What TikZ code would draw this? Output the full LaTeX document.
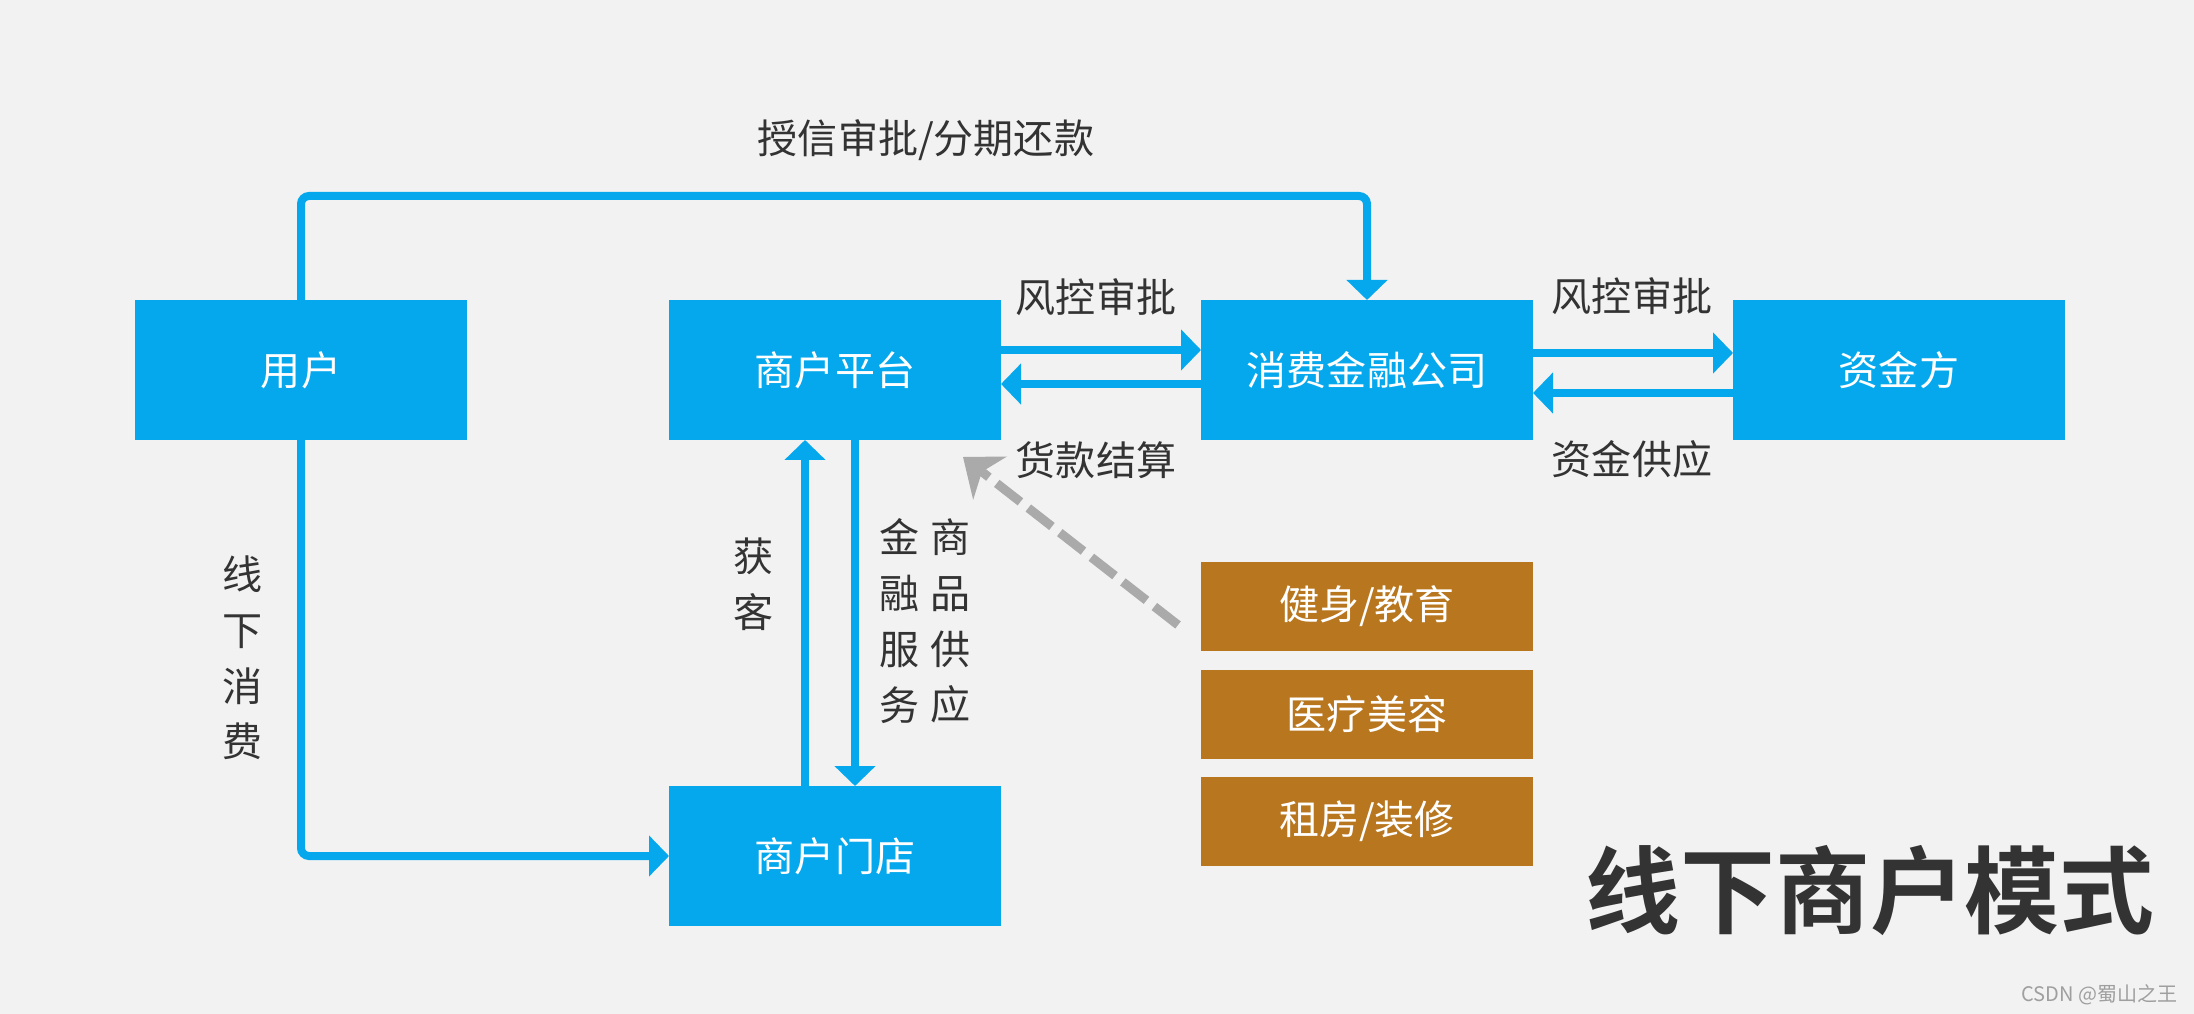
\documentclass[tikz,border=0pt]{standalone}
\usepackage{fontspec}
\setmainfont{Noto Sans CJK SC}[BoldFont={Noto Sans CJK SC Bold}]
\usepackage{tikz}
\usetikzlibrary{arrows.meta, positioning}
\definecolor{bgcol}{HTML}{F2F2F2}
\definecolor{boxblue}{HTML}{05A8EC}
\definecolor{boxbrown}{HTML}{B8761E}
\definecolor{txtgray}{HTML}{333333}
\definecolor{dashgray}{HTML}{AAAAAA}

\begin{document}
\begin{tikzpicture}[
        bluebox/.style={rectangle, fill=boxblue, minimum width=3.32cm,
                     minimum height=1.40cm, inner sep=0pt, outer sep=0pt,
                     text=white, font=\fontsize{11.4}{14}\selectfont},
        brownbox/.style={rectangle, fill=boxbrown, minimum width=3.32cm,
                     minimum height=0.89cm, inner sep=0pt, outer sep=0pt,
                     text=white, font=\fontsize{11.4}{14}\selectfont},
        lbl/.style={text=txtgray, inner sep=0pt, align=center,
                     font=\fontsize{11.4}{15.85}\selectfont},
        arr/.style={-{Triangle[length=0.2cm, width=0.4cm]}, line width=0.08cm, boxblue},
        garr/.style={-{Stealth[length=0.34cm, width=0.54cm, inset=0.1cm]},
                     line width=0.09cm, dashgray, dash pattern=on 0.3cm off 0.1cm}
    ]
        \path[use as bounding box, fill=bgcol] (0,0) rectangle (21.94,-10.14);
        \node[bluebox] (user) at (3.01,-3.70) {用户};
        \node[bluebox, right=2.02cm of user]     (platform) {商户平台};
        \node[bluebox, right=2.00cm of platform] (cfc)      {消费金融公司};
        \node[bluebox, right=2.00cm of cfc]      (fund)     {资金方};
        \node[bluebox, below=3.46cm of platform] (store)    {商户门店};
        \node[brownbox, below=1.22cm of cfc]     (health)   {健身/教育};
        \node[brownbox, below=0.19cm of health]  (beauty)   {医疗美容};
        \node[brownbox, below=0.18cm of beauty]  (rent)     {租房/装修};
        % labels
        \node[lbl] (lcredit)  at (9.26,-1.40) {授信审批/分期还款};
        \node[lbl] (lrisk)    at (10.96,-2.97) {风控审批};
        \node[lbl] (lsettle)  at (10.96,-4.60) {货款结算};
        \node[lbl] (lrisk2)   at (16.32,-2.96) {风控审批};
        \node[lbl] (lsupply)  at (16.32,-4.59) {资金供应};
        \node[lbl] (loffline) at (2.43,-6.58) {线\\下\\消\\费};
        \node[lbl] (lgain)    at (7.54,-5.84) {获\\客};
        \node[lbl] (lfinserv) at (9.00,-6.21) {金\\融\\服\\务};
        \node[lbl] (lgoods)   at (9.51,-6.21) {商\\品\\供\\应};
        \node[lbl, font=\fontsize{27}{32}\selectfont\bfseries] (title) at (18.70,-8.91) {线下商户模式};
        \node[lbl, anchor=east, text=gray!75, font=\fontsize{5.7}{7}\selectfont] (mark) at (21.78,-9.95) {CSDN @蜀山之王};
        % connectors
        \draw[arr, rounded corners=0.08cm] (user.north) -- ++(0,1.04) -| (cfc.north);
        \draw[arr, rounded corners=0.08cm] (user.south) |- (store.west);
        \draw[arr] ([yshift=2mm]platform.east) -- ([yshift=2mm]cfc.west);
        \draw[arr] ([yshift=-1.4mm]cfc.west) -- ([yshift=-1.4mm]platform.east);
        \draw[arr] ([yshift=1.7mm]cfc.east) -- ([yshift=1.7mm]fund.west);
        \draw[arr] ([yshift=-2.3mm]fund.west) -- ([yshift=-2.3mm]cfc.east);
        \draw[arr] ([xshift=-3mm]store.north) -- ([xshift=-3mm]platform.south);
        \draw[arr] ([xshift=2mm]platform.south) -- ([xshift=2mm]store.north);
        \draw[garr] ([shift={(-0.23,-0.185)}]health.west) -- ([shift={(-0.38,-0.17)}]platform.south east);
    \end{tikzpicture}
\end{document}
